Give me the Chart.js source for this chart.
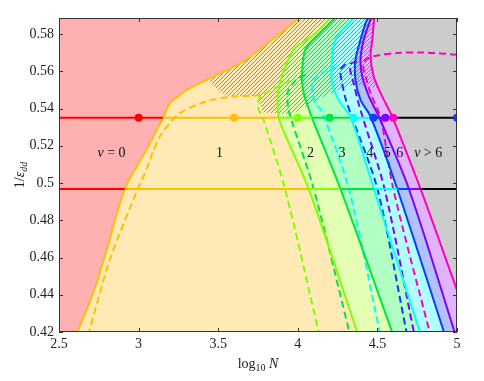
<!DOCTYPE html>
<html>
<head>
<meta charset="utf-8">
<script src="https://cdn.jsdelivr.net/npm/chart.js@4.4.0/dist/chart.umd.min.js"></script>
<style>
  html, body { margin: 0; padding: 0; background: #fff; }
  #wrap { width: 484px; height: 381px; }
</style>
</head>
<body>
<div id="wrap"><canvas id="chart" width="484" height="381"></canvas></div>
<script>
// Axis ranges and ticks
const xMin = 2.5, xMax = 5;
const yMin = 0.42, yMax = 0.5886;
const xTicks = [2.5, 3, 3.5, 4, 4.5, 5];
const yTicks = [0.42, 0.44, 0.46, 0.48, 0.5, 0.52, 0.54, 0.56, 0.58];

// Solid boundaries [log10 N, 1/eps_dd], listed from top to bottom
const bound1 = [[4.01, 0.5886], [3.88, 0.5796], [3.66, 0.5653], [3.428, 0.5554], [3.323, 0.551], [3.261, 0.5474], [3.198, 0.5429], [3.153, 0.535], [3.05, 0.5178], [2.914, 0.4968], [2.80, 0.464], [2.714, 0.4407], [2.616, 0.42]];
const bound2 = [[4.205, 0.5886], [4.10, 0.5796], [3.974, 0.5716], [3.90, 0.5572], [3.873, 0.5465], [3.879, 0.5357], [3.91, 0.528], [4.068, 0.4968], [4.373, 0.42]];
const bound3 = [[4.235, 0.5886], [4.13, 0.5796], [4.047, 0.5716], [4.026, 0.5572], [4.037, 0.5483], [4.06, 0.542], [4.089, 0.535], [4.268, 0.4968], [4.593, 0.42]];
const bound4 = [[4.35, 0.5886], [4.236, 0.5769], [4.215, 0.5662], [4.215, 0.5537], [4.268, 0.5429], [4.331, 0.5357], [4.478, 0.4968], [4.767, 0.42]];
const bound5 = [[4.44, 0.5886], [4.426, 0.5859], [4.394, 0.5769], [4.362, 0.5662], [4.362, 0.5554], [4.394, 0.5447], [4.457, 0.5357], [4.625, 0.4968], [4.918, 0.42]];
const bound6 = [[4.46, 0.5886], [4.414, 0.5769], [4.394, 0.5662], [4.405, 0.5572], [4.447, 0.5465], [4.509, 0.5357], [4.698, 0.4968], [4.985, 0.42]];
const bound7 = [[4.48, 0.5886], [4.468, 0.5769], [4.457, 0.568], [4.477, 0.5572], [4.53, 0.5465], [4.593, 0.5357], [4.771, 0.4968], [5.0, 0.4425]];

// Dashed boundaries
const dash1 = [[3.764, 0.5473], [3.72, 0.5468], [3.596, 0.5465], [3.428, 0.5438], [3.26, 0.5375], [3.134, 0.525], [3.04, 0.5053], [2.997, 0.4972], [2.819, 0.4587], [2.689, 0.42]];
const dash2 = [[3.95, 0.555], [3.90, 0.553], [3.816, 0.5491], [3.76, 0.5455], [3.753, 0.5402], [3.785, 0.5339], [3.921, 0.4963], [4.131, 0.42]];
const dash3 = [[4.05, 0.558], [3.99, 0.5555], [3.94, 0.5495], [3.935, 0.5447], [3.942, 0.5393], [3.963, 0.533], [4.1, 0.4968], [4.324, 0.42]];
const dash4 = [[4.25, 0.5625], [4.16, 0.5595], [4.10, 0.5555], [4.09, 0.549], [4.11, 0.543], [4.152, 0.5384], [4.32, 0.4968], [4.515, 0.42]];
const dash5 = [[4.30, 0.5638], [4.268, 0.5608], [4.278, 0.5537], [4.299, 0.5456], [4.331, 0.5375], [4.50, 0.4968], [4.683, 0.42]];
const dash6 = [[4.37, 0.5655], [4.33, 0.5638], [4.331, 0.56], [4.35, 0.5538], [4.381, 0.543], [4.413, 0.5339], [4.545, 0.4968], [4.729, 0.42]];
const dash7 = [[5.0, 0.5689], [4.79, 0.5701], [4.625, 0.5698], [4.50, 0.5685], [4.43, 0.5665], [4.41, 0.563], [4.426, 0.5572], [4.457, 0.5483], [4.52, 0.535], [4.60, 0.4968], [4.828, 0.42]];

// Lower edge of the hatched area, from the orange to the magenta boundary
const hatchEdge = [[3.428, 0.5554], [3.55, 0.5465], [3.75, 0.5468], [3.78, 0.538], [3.96, 0.5368], [4.08, 0.5425], [4.2, 0.548], [4.35, 0.553], [4.505, 0.551]];

// Horizontal cuts and where they cross each boundary
const cutHighY = 0.535;
const cutHighX = [2.5, 3.153, 3.879, 4.089, 4.331, 4.457, 4.509, 4.593, 5.0];
const cutLowY = 0.4968;
const cutLowX = [2.5, 2.914, 4.068, 4.268, 4.478, 4.625, 4.698, 4.771, 5.0];

// Marked points on the upper cut
const dotX = [3.0, 3.6, 4.0, 4.2, 4.35, 4.475, 4.55, 4.6, 5.0];

// Region labels
const regionLabels = ['ν = 0', '1', '2', '3', '4', '5', '6', 'ν > 6'];
const labelX = [2.83, 3.508, 4.079, 4.278, 4.452, 4.562, 4.641, 4.819];
const labelY = 0.5162;

// Colours
const lineColors = ['#ffbf00', '#80ff00', '#00e640', '#00ffff', '#0040ff', '#8000ff', '#ff00bf'];
const cutColors = ['#ff0000', '#ffbf00', '#80ff00', '#00e640', '#00ffff', '#0040ff', '#8000ff', '#000000'];
const regionColors = ['#ffb0b0', '#ffe9b4', '#e2ffb4', '#b2ffc4', '#b2ffff', '#b2c2ff', '#e0b4ff', '#cccccc'];
const dotColors = ['#ff0000', '#ffbf00', '#80ff00', '#00e640', '#00ffff', '#0040ff', '#8000ff', '#ff00bf', '#0040ff'];

const fontFamily = "'Liberation Serif', 'Times New Roman', serif";
const textColor = '#222';

const toPts = arr => arr.map(p => ({x: p[0], y: p[1]}));

function makeHatch(ctx) {
    const s = 4;
    const c = document.createElement('canvas');
    c.width = s; c.height = s;
    const g = c.getContext('2d');
    g.strokeStyle = 'rgba(95,95,95,0.75)';
    g.lineWidth = 0.9;
    g.beginPath();
    g.moveTo(-1, 1); g.lineTo(1, -1);
    g.moveTo(0, s); g.lineTo(s, 0);
    g.moveTo(s - 1, s + 1); g.lineTo(s + 1, s - 1);
    g.stroke();
    return ctx.createPattern(c, 'repeat');
}

const canvas = document.getElementById('chart');
const ctx = canvas.getContext('2d');
const hatch = makeHatch(ctx);

const bounds = [bound1, bound2, bound3, bound4, bound5, bound6, bound7];
const dashes = [dash1, dash2, dash3, dash4, dash5, dash6, dash7];

const datasets = [];

dashes.forEach((d, i) => {
    datasets.push({
        data: toPts(d), showLine: true, fill: false, borderColor: lineColors[i],
        borderWidth: 2, borderDash: [7, 4], tension: 0.3, pointRadius: 0, order: 60
    });
});

const boundIndex = [];
bounds.forEach((b, i) => {
    boundIndex.push(datasets.length);
    datasets.push({
        data: toPts(b), showLine: true, fill: false, borderColor: lineColors[i],
        borderWidth: 2, tension: 0.3, pointRadius: 0, order: 50
    });
});

// the two horizontal cuts, coloured piece by piece
[[cutHighX, cutHighY], [cutLowX, cutLowY]].forEach(([xs, yv]) => {
    datasets.push({
        data: xs.map(x => ({x: x, y: yv})), showLine: true, fill: false,
        borderColor: '#000', borderWidth: 2, pointRadius: 0, order: 40,
        segment: {borderColor: s => cutColors[s.p0DataIndex]}
    });
});

datasets.push({
    data: dotX.map(x => ({x: x, y: cutHighY})), showLine: false,
    pointRadius: 4, pointBorderWidth: 0, pointBackgroundColor: dotColors, order: 10
});

// draws a line of text made of regular and italic pieces
function drawRuns(c, runs, x, y, size, align) {
    let total = 0;
    runs.forEach(r => {
        c.font = (r.it ? 'italic ' : '') + (r.size || size) + 'px ' + fontFamily;
        r.w = c.measureText(r.t).width;
        total += r.w;
    });
    let cx = align === 'center' ? x - total / 2 : x;
    runs.forEach(r => {
        c.font = (r.it ? 'italic ' : '') + (r.size || size) + 'px ' + fontFamily;
        c.fillText(r.t, cx, y + (r.dy || 0));
        cx += r.w;
    });
}

const regionPlugin = {
    id: 'regions',
    beforeDatasetsDraw(chart) {
        const {ctx: c, chartArea: a, scales} = chart;
        const far = 60;
        const linePath = i => {
            const line = chart.getDatasetMeta(boundIndex[i]).dataset;
            line.updateControlPoints(a, 'x');
            line.path(c);
        };
        c.save();
        c.beginPath();
        c.rect(a.left, a.top, a.right - a.left, a.bottom - a.top);
        c.clip();
        c.fillStyle = regionColors[0];
        c.fillRect(a.left, a.top, a.right - a.left, a.bottom - a.top);

        // each region lies to the right of its boundary
        bounds.forEach((b, i) => {
            c.beginPath();
            linePath(i);
            c.lineTo(a.right + far, a.bottom + far);
            c.lineTo(a.right + far, a.top - far);
            c.closePath();
            c.fillStyle = regionColors[i + 1];
            c.fill();
        });

        // hatch: right of orange, left of magenta, above the hatch edge
        c.beginPath();
        linePath(0);
        c.lineTo(a.right + far, a.bottom + far);
        c.lineTo(a.right + far, a.top - far);
        c.closePath();
        c.clip();
        c.beginPath();
        linePath(6);
        c.lineTo(a.right + 1, a.bottom + far);
        c.lineTo(a.left - far, a.bottom + far);
        c.lineTo(a.left - far, a.top - far);
        c.closePath();
        c.clip();
        c.beginPath();
        const ex = hatchEdge.map(p => scales.x.getPixelForValue(p[0]));
        const ey = hatchEdge.map(p => scales.y.getPixelForValue(p[1]));
        c.moveTo(a.left - far, ey[0]);
        ex.forEach((px, i) => c.lineTo(px, ey[i]));
        c.lineTo(a.right + far, ey[ey.length - 1]);
        c.lineTo(a.right + far, a.top - far);
        c.lineTo(a.left - far, a.top - far);
        c.closePath();
        c.fillStyle = hatch;
        c.fill();
        c.restore();
    },
    afterDraw(chart) {
        const {ctx: c, chartArea: a, scales} = chart;
        c.save();
        c.fillStyle = '#111';
        c.textBaseline = 'middle';
        regionLabels.forEach((t, i) => {
            const px = scales.x.getPixelForValue(labelX[i]);
            const py = scales.y.getPixelForValue(labelY);
            const runs = t.startsWith('ν') ? [{t: 'ν', it: true}, {t: t.slice(1)}] : [{t: t}];
            drawRuns(c, runs, px, py, 14, 'center');
        });

        // frame with inward ticks on all four sides
        c.strokeStyle = '#333';
        c.lineWidth = 1;
        c.strokeRect(a.left + 0.5, a.top + 0.5, a.right - a.left - 1, a.bottom - a.top - 1);
        c.beginPath();
        xTicks.forEach(v => {
            const px = Math.round(scales.x.getPixelForValue(v)) + 0.5;
            c.moveTo(px, a.bottom); c.lineTo(px, a.bottom - 4);
            c.moveTo(px, a.top); c.lineTo(px, a.top + 4);
        });
        yTicks.forEach(v => {
            const py = Math.round(scales.y.getPixelForValue(v)) + 0.5;
            c.moveTo(a.left, py); c.lineTo(a.left + 4, py);
            c.moveTo(a.right, py); c.lineTo(a.right - 4, py);
        });
        c.stroke();

        // axis titles
        c.fillStyle = textColor;
        c.textBaseline = 'alphabetic';
        drawRuns(c, [{t: 'log'}, {t: '10', size: 10, dy: 3}, {t: ' '}, {t: 'N', it: true}], (a.left + a.right) / 2, 368, 14, 'center');
        c.translate(24, (a.top + a.bottom) / 2);
        c.rotate(-Math.PI / 2);
        drawRuns(c, [{t: '1/'}, {t: 'ε', it: true}, {t: 'dd', it: true, size: 10, dy: 3}], 0, 0, 14, 'center');
        c.restore();
    }
};

new Chart(ctx, {
    type: 'scatter',
    data: {datasets: datasets},
    options: {
        responsive: false,
        animation: false,
        layout: {padding: {left: 0, right: 27, top: 18, bottom: 0}},
        plugins: {legend: {display: false}, tooltip: {enabled: false}},
        scales: {
            x: {
                type: 'linear', min: xMin, max: xMax,
                afterBuildTicks: s => { s.ticks = xTicks.map(v => ({value: v})); },
                afterFit: s => { s.height = 49; },
                grid: {display: false, drawTicks: false},
                border: {display: false},
                ticks: {
                    padding: 4, color: textColor, maxRotation: 0,
                    font: {family: fontFamily, size: 14},
                    callback: v => String(parseFloat(v.toFixed(2)))
                }
            },
            y: {
                type: 'linear', min: yMin, max: yMax,
                afterBuildTicks: s => { s.ticks = yTicks.map(v => ({value: v})); },
                afterFit: s => { s.width = 59; },
                grid: {display: false, drawTicks: false},
                border: {display: false},
                ticks: {
                    padding: 5, color: textColor,
                    font: {family: fontFamily, size: 14},
                    callback: v => String(parseFloat(v.toFixed(2)))
                }
            }
        }
    },
    plugins: [regionPlugin]
});
</script>
</body>
</html>
